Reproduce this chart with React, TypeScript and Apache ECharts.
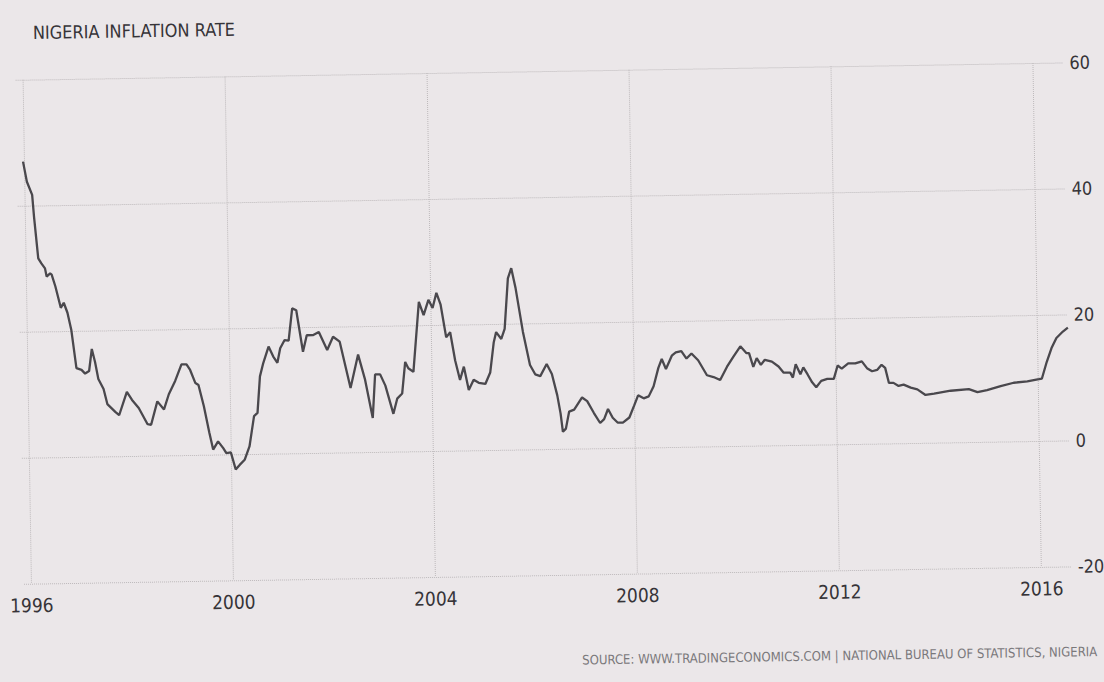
import React, { useEffect, useRef } from "react";
import * as echarts from "echarts";

// decimal year of each reading
const years = [
  1995.97, 1996.04, 1996.14, 1996.17, 1996.24, 1996.30, 1996.37, 1996.40, 1996.47, 1996.50,
  1996.57, 1996.67, 1996.73, 1996.80, 1996.87, 1996.96, 1997.06, 1997.13, 1997.21, 1997.27,
  1997.33, 1997.39, 1997.49, 1997.56, 1997.72, 1997.79, 1997.95, 1998.05, 1998.18, 1998.35,
  1998.42, 1998.55, 1998.68, 1998.78, 1998.91, 1999.04, 1999.14, 1999.21, 1999.31, 1999.37,
  1999.47, 1999.57, 1999.64, 1999.74, 1999.84, 1999.90, 1999.99, 2000.08, 2000.16, 2000.26,
  2000.36, 2000.46, 2000.53, 2000.59, 2000.66, 2000.77, 2000.86, 2000.94, 2001.00, 2001.09,
  2001.17, 2001.25, 2001.33, 2001.45, 2001.53, 2001.65, 2001.77, 2001.93, 2002.05, 2002.18,
  2002.38, 2002.54, 2002.67, 2002.81, 2002.87, 2002.97, 2003.07, 2003.22, 2003.30, 2003.40,
  2003.47, 2003.53, 2003.63, 2003.76, 2003.85, 2003.95, 2004.03, 2004.11, 2004.19, 2004.29,
  2004.37, 2004.46, 2004.55, 2004.63, 2004.72, 2004.82, 2004.92, 2005.05, 2005.15, 2005.23,
  2005.28, 2005.38, 2005.45, 2005.53, 2005.60, 2005.68, 2005.81, 2005.94, 2006.04, 2006.14,
  2006.27, 2006.37, 2006.47, 2006.53, 2006.57, 2006.63, 2006.70, 2006.80, 2006.96, 2007.06,
  2007.19, 2007.31, 2007.39, 2007.47, 2007.56, 2007.66, 2007.76, 2007.89, 2007.99, 2008.07,
  2008.18, 2008.28, 2008.38, 2008.48, 2008.55, 2008.63, 2008.75, 2008.83, 2008.94, 2009.04,
  2009.14, 2009.27, 2009.44, 2009.57, 2009.70, 2009.84, 2009.97, 2010.11, 2010.23, 2010.28,
  2010.36, 2010.43, 2010.51, 2010.59, 2010.73, 2010.86, 2010.96, 2011.09, 2011.14, 2011.20,
  2011.29, 2011.35, 2011.43, 2011.52, 2011.60, 2011.70, 2011.82, 2011.95, 2012.03, 2012.11,
  2012.24, 2012.38, 2012.51, 2012.61, 2012.71, 2012.81, 2012.90, 2012.97, 2013.04, 2013.13,
  2013.23, 2013.33, 2013.47, 2013.60, 2013.76, 2013.93, 2014.26, 2014.62, 2014.79, 2014.98,
  2015.25, 2015.51, 2015.78, 2016.01, 2016.07, 2016.17, 2016.27, 2016.37, 2016.50, 2016.60,
];

// inflation rate, percent
const inflation = [
  47.0, 43.8, 41.7, 38.2, 31.6, 30.8, 30.0, 28.7, 29.2, 29.0,
  27.1, 23.7, 24.5, 22.9, 20.2, 14.1, 13.8, 13.2, 13.6, 17.1,
  15.0, 12.3, 10.7, 8.3, 7.0, 6.5, 10.2, 8.9, 7.6, 5.0,
  4.9, 8.6, 7.3, 9.7, 11.8, 14.4, 14.4, 13.5, 11.4, 11.1,
  7.7, 3.5, 0.8, 2.1, 1.0, 0.2, 0.3, -2.4, -1.7, -0.9,
  1.2, 6.0, 6.5, 12.3, 14.4, 17.0, 15.4, 14.4, 16.7, 18.0,
  17.9, 23.0, 22.7, 16.1, 18.7, 18.7, 19.2, 16.3, 18.4, 17.6,
  10.2, 15.5, 11.5, 5.4, 12.3, 12.3, 10.5, 6.0, 8.4, 9.2,
  14.2, 13.2, 12.6, 23.7, 21.6, 24.0, 22.7, 25.1, 23.2, 18.0,
  18.8, 14.3, 11.2, 13.3, 9.6, 11.2, 10.7, 10.5, 12.3, 17.1,
  18.7, 17.6, 19.2, 27.2, 28.8, 25.6, 18.7, 13.4, 11.9, 11.6,
  13.5, 11.9, 8.5, 5.6, 2.7, 3.2, 5.9, 6.2, 8.1, 7.5,
  5.6, 4.0, 4.6, 6.2, 4.8, 4.0, 4.0, 4.8, 6.7, 8.3,
  7.8, 8.1, 9.7, 12.6, 14.0, 12.4, 14.5, 15.0, 15.2, 14.0,
  14.8, 13.7, 11.3, 11.0, 10.5, 12.6, 14.2, 15.8, 14.7, 14.7,
  12.5, 13.9, 12.8, 13.6, 13.3, 12.5, 11.5, 11.5, 10.7, 12.8,
  11.2, 12.3, 11.2, 9.9, 9.1, 10.1, 10.4, 10.4, 12.5, 12.0,
  12.8, 12.8, 13.1, 12.0, 11.5, 11.7, 12.5, 12.0, 9.6, 9.6,
  9.1, 9.3, 8.8, 8.5, 7.6, 7.8, 8.2, 8.4, 7.9, 8.2,
  8.8, 9.3, 9.5, 9.8, 9.9, 12.5, 14.7, 16.3, 17.3, 17.9,
];

const xTickYears = [1996, 2000, 2004, 2008, 2012, 2016];
const yTicks = [-20, 0, 20, 40, 60];
const titleText = "NIGERIA INFLATION RATE";
const sourceText =
  "SOURCE: WWW.TRADINGECONOMICS.COM | NATIONAL BUREAU OF STATISTICS, NIGERIA";

const FONT = '"Liberation Sans Narrow", "DejaVu Sans Condensed", "DejaVu Sans", sans-serif';

export default function App() {
  const ref = useRef<HTMLDivElement>(null);

  useEffect(() => {
    if (!ref.current) return;
    const chart = echarts.init(ref.current, null, { renderer: "svg" });
    const data = years.map((y, i) => [y, inflation[i]]);
    chart.setOption({
      animation: false,
      backgroundColor: "transparent",
      title: {
        text: titleText,
        left: 38,
        top: 15,
        padding: 0,
        textStyle: { fontFamily: FONT, fontSize: 18, fontWeight: "normal", color: "#363438" },
      },
      graphic: [
        {
          type: "text",
          right: 12,
          top: 654,
          style: { text: sourceText, fontFamily: FONT, fontSize: 13, fill: "#7a787b" },
        },
      ],
      grid: { left: 20, right: 36, top: 71, bottom: 107, containLabel: false },
      xAxis: {
        type: "value",
        min: 1995.85,
        max: 2016.6,
        axisLine: { show: false },
        axisTick: { show: false, customValues: xTickYears },
        axisLabel: {
          customValues: xTickYears,
          formatter: (v: number) => String(Math.round(v)),
          fontFamily: FONT,
          fontSize: 19,
          color: "#363438",
          margin: 12,
        },
        splitLine: { show: true, lineStyle: { color: "#bdb9bb", type: "dotted", width: 1 } },
      },
      yAxis: {
        type: "value",
        position: "right",
        min: yTicks[0],
        max: yTicks[yTicks.length - 1],
        interval: 20,
        axisLine: { show: false },
        axisTick: { show: false },
        axisLabel: { fontFamily: FONT, fontSize: 18, color: "#363438", margin: 6 },
        splitLine: { show: true, lineStyle: { color: "#bdb9bb", type: "dotted", width: 1 } },
      },
      series: [
        {
          type: "line",
          data,
          showSymbol: false,
          symbol: "none",
          lineStyle: { color: "#4a484d", width: 2.3 },
          smooth: false,
        },
      ],
    });
    return () => chart.dispose();
  }, []);

  return (
    <div
      style={{
        position: "fixed",
        left: 0,
        top: 0,
        width: 1104,
        height: 682,
        background: "#ebe7e9",
        overflow: "hidden",
      }}
    >
      <div
        ref={ref}
        style={{
          width: 1104,
          height: 682,
          transform: "rotate(-0.95deg)",
          transformOrigin: "552px 341px",
        }}
      />
    </div>
  );
}
